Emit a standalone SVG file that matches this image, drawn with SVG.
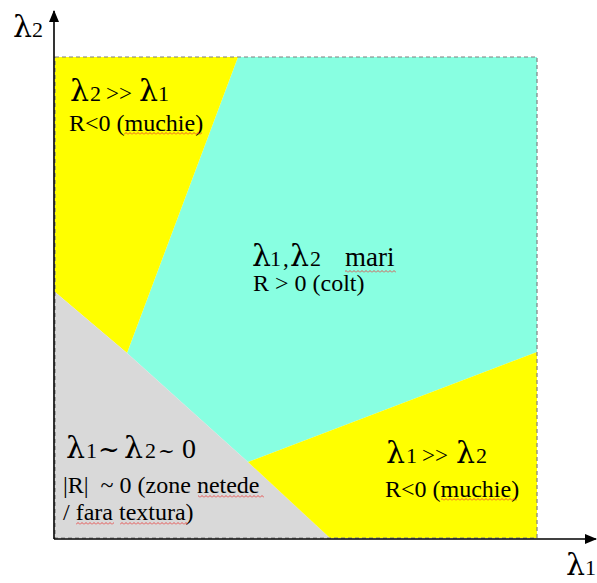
<svg xmlns="http://www.w3.org/2000/svg" width="597" height="583" viewBox="0 0 597 583">
<style>
  text { font-family: "Liberation Serif", "Times New Roman", serif; fill: #000; }
  .lam { font-family: "DejaVu Serif", "Liberation Serif", serif; font-size: 30px; }
  .sub { font-size: 22px; }
  .op { font-size: 23px; }
  .desc { font-size: 24px; }
  .tilde { font-family: "DejaVu Serif", serif; }
  .axis { stroke: #000; stroke-width: 1.6; fill: none; }
  .sq { fill: url(#squiggle); }
</style>
<defs>
  <marker id="arrow" markerWidth="12" markerHeight="12" refX="11" refY="6" orient="auto" markerUnits="userSpaceOnUse">
    <path d="M0,1 L12,6 L0,11 Z" fill="#000"/>
  </marker>
  <pattern id="squiggle" width="4" height="3" patternUnits="userSpaceOnUse">
    <path d="M0,2.5 L2,0.5 L4,2.5" stroke="#e8322e" stroke-width="0.8" fill="none"/>
  </pattern>
</defs>

<g id="regions">
  <polygon id="region-cyan" points="238,57 537,57 537,352 248,462 127,353" fill="#88FFE1"/>
  <polygon id="region-yellow-top" points="55,57 238,57 127,353 55,292" fill="#FFFF00"/>
  <polygon id="region-gray" points="55,292 127,353 248,462 330,538 55,538" fill="#D9D9D9"/>
  <polygon id="region-yellow-bottom" points="248,462 537,352 537,538 330,538" fill="#FFFF00"/>
  <rect id="border" x="55" y="57" width="482" height="481" fill="none" stroke="#808080" stroke-width="1.2" stroke-dasharray="4,3"/>
</g>

<g id="connectors">
  <line class="axis" x1="54" y1="539" x2="54" y2="11" marker-end="url(#arrow)"/>
  <line class="axis" x1="54" y1="539" x2="596" y2="539" marker-end="url(#arrow)"/>
</g>

<g id="axis-label-y">
  <text y="37"><tspan class="lam" x="13">λ</tspan><tspan class="sub" x="32">2</tspan></text>
</g>
<g id="axis-label-x">
  <text y="575"><tspan class="lam" x="566">λ</tspan><tspan class="sub" x="585">1</tspan></text>
</g>

<g id="node-top-left">
  <text y="101"><tspan class="lam" x="70">λ</tspan><tspan class="sub" x="90">2</tspan><tspan class="op" x="106">&gt;&gt;</tspan><tspan class="lam" x="139">λ</tspan><tspan class="sub" x="158">1</tspan></text>
  <text class="desc" x="69" y="131">R&lt;0 (muchie)</text>
  <rect class="sq" x="124" y="132" width="78" height="3"/>
</g>

<g id="node-center">
  <text y="266"><tspan class="lam" x="252">λ</tspan><tspan class="sub" x="270">1</tspan><tspan class="op" x="283">,</tspan><tspan class="lam" x="290">λ</tspan><tspan class="sub" x="310">2</tspan><tspan x="345" style="font-size:27px">mari</tspan></text>
  <rect class="sq" x="345" y="270" width="51" height="3"/>
  <text class="desc" x="253" y="291">R &gt; 0 (colt)</text>
</g>

<g id="node-bottom-left">
  <text y="458"><tspan class="lam" x="66">λ</tspan><tspan class="sub" x="86">1</tspan><tspan class="tilde" style="font-size:26px" x="98">~</tspan><tspan class="lam" x="124">λ</tspan><tspan class="sub" x="145">2</tspan><tspan class="tilde" style="font-size:20px" x="158">~</tspan><tspan style="font-size:28px" x="182">0</tspan></text>
  <text class="desc" x="63" y="493" xml:space="preserve">|R|  ~ 0 (zone netede</text>
  <rect class="sq" x="198" y="495" width="66" height="3"/>
  <text class="desc" x="63" y="520">/ fara textura)</text>
  <rect class="sq" x="76" y="522" width="38" height="3"/>
  <rect class="sq" x="120" y="522" width="68" height="3"/>
</g>

<g id="node-bottom-right">
  <text y="463"><tspan class="lam" x="386">λ</tspan><tspan class="sub" x="406">1</tspan><tspan class="op" x="422">&gt;&gt;</tspan><tspan class="lam" x="456">λ</tspan><tspan class="sub" x="476">2</tspan></text>
  <text class="desc" x="385" y="497">R&lt;0 (muchie)</text>
  <rect class="sq" x="441" y="498" width="76" height="3"/>
</g>
</svg>
